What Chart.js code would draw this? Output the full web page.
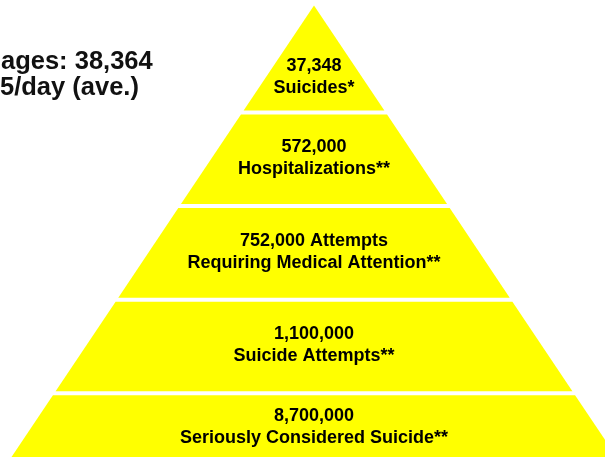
<!DOCTYPE html>
<html>
<head>
<meta charset="utf-8">
<script src="https://cdn.jsdelivr.net/npm/chart.js@4"></script>
<style>
  html, body { margin: 0; padding: 0; background: #ffffff; }
  #wrap { width: 605px; height: 457px; overflow: hidden; }
  canvas { display: block; }
</style>
</head>
<body>
<div id="wrap"><canvas id="c" width="605" height="457"></canvas></div>
<script>
// ---- data ----
const tiers = ['Suicides*', 'Hospitalizations**', 'Attempts Requiring Medical Attention**', 'Suicide Attempts**', 'Seriously Considered Suicide**'];
const counts = [37348, 572000, 752000, 1100000, 8700000];
const tierLabels = [
  ['37,348', 'Suicides*'],
  ['572,000', 'Hospitalizations**'],
  ['752,000 Attempts', 'Requiring Medical Attention**'],
  ['1,100,000', 'Suicide Attempts**'],
  ['8,700,000', 'Seriously Considered Suicide**']
];
const sideNote = ['ages: 38,364', '5/day (ave.)'];

const FONT = '"Liberation Sans", Arial, Helvetica, sans-serif';
const YELLOW = '#FFFF00';
const GAP = 4;

const pyramidPlugin = {
  id: 'pyramid',
  beforeDatasetsDraw(chart) {
    const ctx = chart.ctx;
    const xs = chart.scales.x, ys = chart.scales.y;
    const apex = ys.min;
    const half = (px) => {
      const v = ys.getValueForPixel(px);
      return xs.getPixelForValue(v - apex) - xs.getPixelForValue(0);
    };
    const cx = xs.getPixelForValue(0);
    ctx.save();
    ctx.fillStyle = YELLOW;
    tiers.forEach((t, i) => {
      const topV = i === 0 ? apex : i;
      const botV = i + 1;
      const top = ys.getPixelForValue(topV) + (i === 0 ? 0 : GAP / 2);
      const bot = ys.getPixelForValue(botV) - GAP / 2;
      const ht = half(top), hb = half(bot);
      ctx.beginPath();
      ctx.moveTo(cx - ht, top);
      ctx.lineTo(cx + ht, top);
      ctx.lineTo(cx + hb, bot);
      ctx.lineTo(cx - hb, bot);
      ctx.closePath();
      ctx.fill();
    });
    ctx.restore();
  },
  afterDraw(chart) {
    const ctx = chart.ctx;
    const xs = chart.scales.x, ys = chart.scales.y;
    const apex = ys.min;
    const cx = xs.getPixelForValue(0);
    const area = chart.chartArea;
    ctx.save();
    ctx.fillStyle = '#000000';
    ctx.textAlign = 'center';
    ctx.textBaseline = 'middle';
    ctx.font = 'bold 18px ' + FONT;
    tierLabels.forEach((lines, i) => {
      const topV = i === 0 ? apex : i;
      const top = ys.getPixelForValue(topV) + (i === 0 ? 0 : GAP / 2);
      const bot = Math.min(ys.getPixelForValue(i + 1) - GAP / 2, area.bottom);
      let mid;
      if (i === 0) mid = top + (bot - top) * 0.68;
      else if (i === tiers.length - 1) mid = (top + bot) / 2 + 1;
      else mid = (top + bot) / 2 - 1;
      ctx.fillText(lines[0], cx, mid - 11);
      ctx.fillText(lines[1], cx, mid + 11);
    });
    // side note (cropped in the original)
    ctx.textAlign = 'left';
    ctx.fillStyle = '#111111';
    ctx.font = 'bold 25.5px ' + FONT;
    ctx.fillText(sideNote[0], 1, 62);
    ctx.fillText(sideNote[1], 0, 88);
    ctx.restore();
  }
};

new Chart(document.getElementById('c'), {
  type: 'scatter',
  data: {
    datasets: [{
      label: 'Pyramid',
      data: counts.map((c, i) => ({ x: 0, y: i + 0.5, count: c })),
      pointRadius: 0,
      pointHoverRadius: 0,
      showLine: false
    }]
  },
  options: {
    responsive: false,
    animation: false,
    devicePixelRatio: 1,
    layout: { padding: { top: 5.5, left: 0, right: 0, bottom: 0 } },
    plugins: { legend: { display: false }, tooltip: { enabled: false }, title: { display: false } },
    scales: {
      x: { type: 'linear', min: -5.01, max: 4.643, display: false },
      y: { type: 'linear', reverse: true, min: -0.1443, max: 4.682, display: false }
    }
  },
  plugins: [pyramidPlugin]
});
</script>
</body>
</html>
